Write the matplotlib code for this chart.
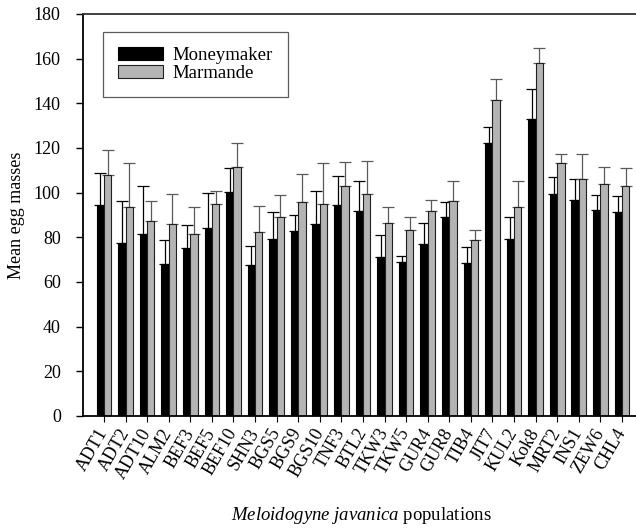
import numpy as np
import matplotlib
matplotlib.use("Agg")
import matplotlib.pyplot as plt

plt.rcParams.update({
    "font.family": "Liberation Serif",
    "mathtext.fontset": "custom",
    "mathtext.rm": "Liberation Serif",
    "mathtext.it": "Liberation Serif:italic",
})

populations = ["ADT1", "ADT2", "ADT10", "ALM2", "BEF3", "BEF5", "BEF10", "SHN3",
               "BGS5", "BGS9", "BGS10", "TNF3", "BTL2", "TKW3", "TKW5", "GUR4",
               "GUR8", "TIB4", "JIT7", "KUL2", "Kok8", "MRT2", "INS1", "ZEW6", "CHL4"]

moneymaker = [94.4, 77.6, 81.4, 68.2, 75.3, 84.2, 100.2, 67.6,
              79.3, 83.0, 86.0, 94.4, 91.9, 71.4, 68.8, 77.1,
              89.0, 68.7, 122.4, 79.4, 133.2, 99.6, 96.9, 92.3, 91.4]
moneymaker_se = [14.2, 18.8, 21.7, 10.8, 10.4, 15.7, 10.8, 8.6,
                 11.9, 6.8, 14.7, 13.2, 13.3, 9.5, 2.9, 9.5,
                 6.7, 6.8, 6.9, 9.5, 13.0, 7.5, 9.3, 6.6, 7.0]

marmande = [107.9, 93.4, 87.4, 85.9, 81.4, 94.8, 111.6, 82.3,
            89.0, 95.6, 94.7, 103.1, 99.6, 86.5, 83.5, 91.9,
            96.1, 79.0, 141.7, 93.7, 158.1, 113.2, 106.2, 104.1, 102.8]
marmande_se = [11.2, 19.8, 8.7, 13.6, 12.1, 5.9, 10.5, 11.6,
               9.9, 12.7, 18.4, 10.8, 14.7, 7.3, 5.5, 5.0,
               8.9, 4.5, 9.0, 11.5, 6.5, 4.2, 10.9, 7.3, 8.1]

x = np.arange(len(populations))
w = 0.34

fig = plt.figure(figsize=(6.36, 5.30), dpi=100)
ax = fig.add_axes([0.1305, 0.2151, 0.8695, 0.7585])

ax.bar(x - w / 2, moneymaker, w, color="black", edgecolor="black", linewidth=0.8,
       label="Moneymaker", zorder=2)
ax.bar(x + w / 2, marmande, w, color="#b4b4b4", edgecolor="#202020", linewidth=0.8,
       label="Marmande", zorder=2)

# upper error bars only
ax.errorbar(x - w / 2, moneymaker, yerr=[np.zeros(len(x)), moneymaker_se],
            fmt="none", ecolor="black", elinewidth=0.9, capsize=4, capthick=0.9, zorder=1)
ax.errorbar(x + w / 2, marmande, yerr=[np.zeros(len(x)), marmande_se],
            fmt="none", ecolor="#5a5a5a", elinewidth=0.9, capsize=4, capthick=0.9, zorder=1)

ax.set_ylim(0, 180)
ax.set_yticks(np.arange(0, 181, 20))
ax.set_xlim(-0.97, 24.65)
ax.set_xticks(x)
ax.set_xticklabels(populations, rotation=60, ha="right", va="center",
                   rotation_mode="anchor", fontsize=13)
ax.tick_params(axis="y", labelsize=13, length=5, width=1, direction="out", pad=11)
ax.tick_params(axis="x", length=4, width=0.8, direction="out", pad=6)

ax.spines["right"].set_visible(False)
for side in ["left", "bottom", "top"]:
    ax.spines[side].set_linewidth(1.3)
ax.spines["top"].set_color("#333333")

ax.set_ylabel("Mean egg masses", fontsize=13)
ax.yaxis.set_label_coords(-0.105, 0.5)
fig.text(0.568, 0.028, r"$\it{Meloidogyne\ javanica}$ populations", fontsize=13.5,
         ha="center", va="center")

leg = ax.legend(loc="upper left", bbox_to_anchor=(0.036, 0.955), fontsize=13.5,
                frameon=True, fancybox=False, edgecolor="#333333",
                handlelength=2.4, handleheight=0.7, handletextpad=0.5,
                borderpad=0.8, labelspacing=0.05, borderaxespad=0)
leg.get_frame().set_linewidth(0.9)

fig.savefig("out.png", dpi=100)
